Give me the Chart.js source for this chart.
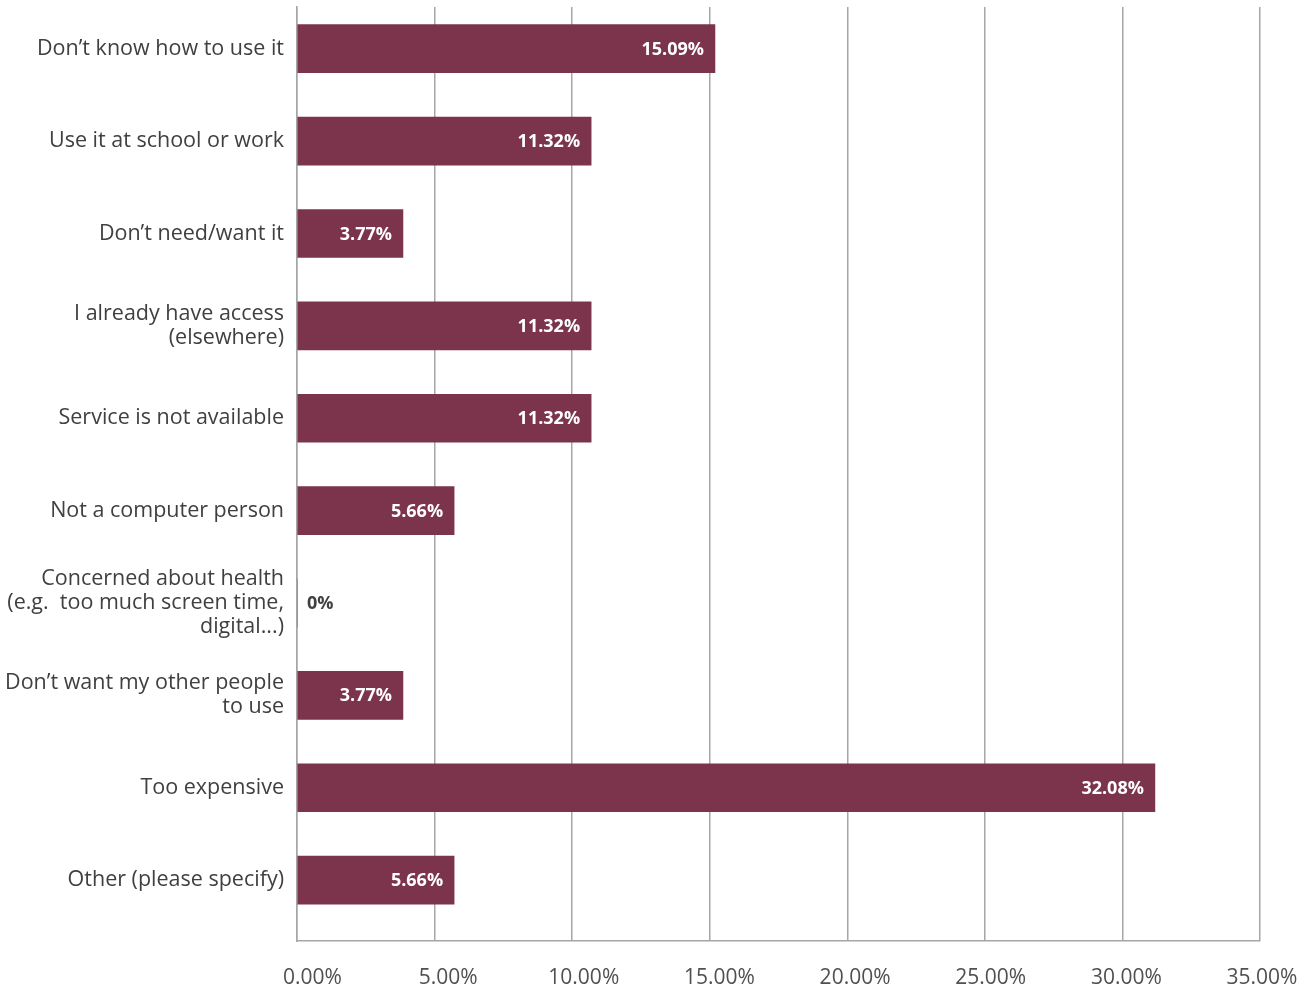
<!DOCTYPE html>
<html>
<head>
<meta charset="utf-8">
<script src="https://cdn.jsdelivr.net/npm/chart.js@4.4.1/dist/chart.umd.min.js"></script>
<style>
  html, body { margin: 0; padding: 0; background: #ffffff; }
  #wrap { width: 1313px; height: 994px; position: relative; }
</style>
</head>
<body>
<div id="wrap"><canvas id="c" width="1313" height="994"></canvas></div>
<script>
// ---- Data ----
const categories = [
  ["Don\u2019t know how to use it"],
  ["Use it at school or work"],
  ["Don\u2019t need/want it"],
  ["I already have access", "(elsewhere)"],
  ["Service is not available"],
  ["Not a computer person"],
  ["Concerned about health", "(e.g.  too much screen time,", "digital...)"],
  ["Don\u2019t want my other people", "to use"],
  ["Too expensive"],
  ["Other (please specify)"]
];
// bar lengths as drawn in the picture (percent)
const barValues = [15.19, 10.69, 3.85, 10.69, 10.69, 5.71, 0, 3.85, 31.18, 5.71];
// value labels printed on the bars
const valueLabels = ["15.09%", "11.32%", "3.77%", "11.32%", "11.32%", "5.66%", "0%", "3.77%", "32.08%", "5.66%"];
// x axis tick labels
const xTickValues = [0, 5, 10, 15, 20, 25, 30, 35];
const xTickLabels = ["0.00%", "5.00%", "10.00%", "15.00%", "20.00%", "25.00%", "30.00%", "35.00%"];

const BAR = '#7b344b';
const GRID = '#a6a6a6';
const TEXT = '#404040';
const FONT = "'Open Sans', 'Noto Sans', sans-serif";

const points = barValues.map((v, i) => ({ x: v, y: i }));

const valueLabelPlugin = {
  id: 'valueLabels',
  afterDatasetsDraw(chart) {
    const ctx = chart.ctx;
    const meta = chart.getDatasetMeta(0);
    ctx.save();
    ctx.font = "bold 18px " + FONT;
    ctx.textBaseline = 'middle';
    meta.data.forEach((el, i) => {
      const v = barValues[i];
      const props = el.getProps(['x', 'y', 'base'], true);
      if (v > 0) {
        ctx.fillStyle = '#ffffff';
        ctx.textAlign = 'right';
        ctx.fillText(valueLabels[i], props.x - 11, props.y + 1);
      } else {
        ctx.fillStyle = TEXT;
        ctx.textAlign = 'left';
        ctx.fillText(valueLabels[i], props.base + 10, props.y + 1);
      }
    });
    ctx.restore();
  }
};

function noPad(scale) {
  scale.paddingTop = 0; scale.paddingBottom = 0;
  scale.paddingLeft = 0; scale.paddingRight = 0;
}

new Chart(document.getElementById('c'), {
  type: 'bar',
  data: {
    datasets: [{
      data: points,
      backgroundColor: BAR,
      borderWidth: 0,
      barThickness: 48
    }]
  },
  options: {
    indexAxis: 'y',
    responsive: false,
    animation: false,
    layout: { padding: { top: 7, right: 53, left: 0, bottom: 0 } },
    plugins: { legend: { display: false }, tooltip: { enabled: false } },
    scales: {
      y: {
        type: 'linear',
        reverse: true,
        offset: false,
        min: -0.4514,
        max: 9.659,
        afterBuildTicks(scale) { scale.ticks = categories.map((_, i) => ({ value: i })); },
        afterFit(scale) { scale.width = 297; noPad(scale); },
        grid: { display: false, drawTicks: false, offset: false },
        border: { display: true, color: GRID, width: 1.5 },
        ticks: {
          autoSkip: false,
          padding: 13,
          color: TEXT,
          font: { family: FONT, size: 21.5, lineHeight: 1.116 },
          callback: (v) => categories[v]
        }
      },
      x: {
        type: 'linear',
        position: 'bottom',
        min: 0,
        max: 35,
        afterFit(scale) { scale.height = 0; noPad(scale); },
        ticks: { display: false, stepSize: 5 },
        grid: { color: GRID, lineWidth: 1.5, drawTicks: false },
        border: { display: true, color: GRID, width: 1.5 }
      },
      xt: {
        type: 'linear',
        position: 'bottom',
        axis: 'x',
        min: -0.5713,
        max: 34.926,
        afterBuildTicks(scale) { scale.ticks = xTickValues.map(v => ({ value: v })); },
        afterFit(scale) { scale.height = 53; noPad(scale); },
        grid: { display: false, drawTicks: false },
        border: { display: false },
        ticks: {
          autoSkip: false,
          maxRotation: 0,
          padding: 24,
          color: '#505050',
          font: { family: FONT, size: 21 },
          callback: (v) => xTickLabels[xTickValues.indexOf(v)]
        }
      }
    }
  },
  plugins: [valueLabelPlugin]
});
</script>
</body>
</html>
